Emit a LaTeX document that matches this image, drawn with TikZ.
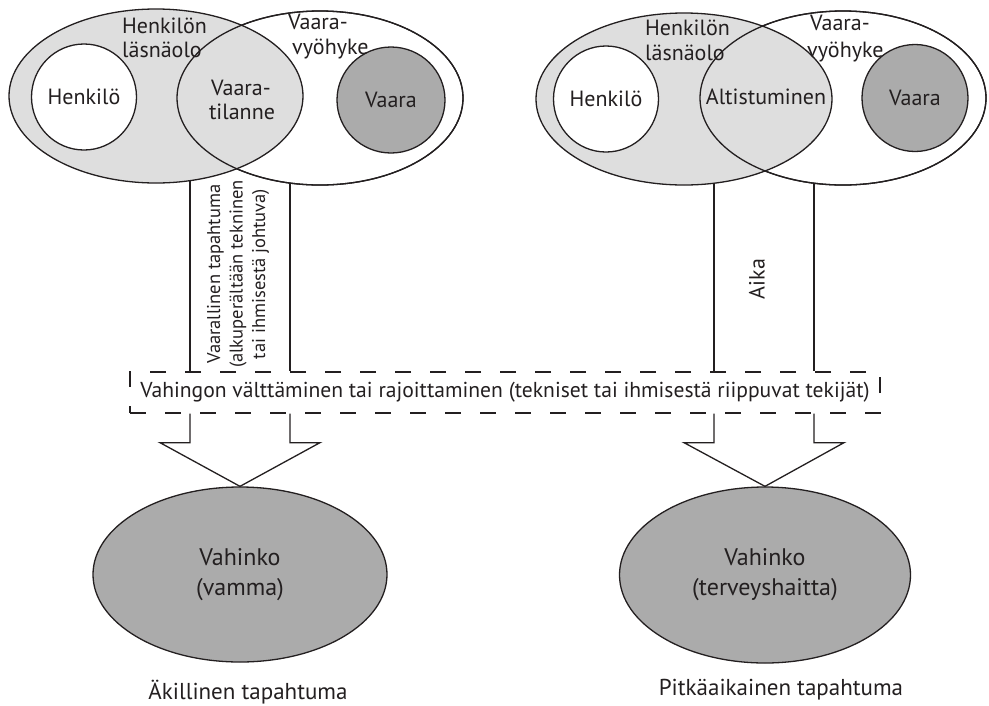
\documentclass[tikz,border=0pt]{standalone}
\usepackage{fontspec}
\setmainfont{PT Sans}
\usetikzlibrary{shapes.geometric,calc}
\pgfdeclarelayer{background}
\pgfsetlayers{background,main}
\definecolor{ink}{HTML}{231F20}
\definecolor{lightfill}{HTML}{DEDEDE}
\definecolor{darkfill}{HTML}{ABABAB}
\tikzset{
  outline/.style={draw=ink, line width=1.3pt},
  region/.style={ellipse, outline, inner sep=0pt},
  lbl/.style={text=ink, inner sep=0pt, font=\fontsize{22}{25}\selectfont},
  smalllbl/.style={text=ink, inner sep=0pt, font=\fontsize{18.5}{22.5}\selectfont},
  caption/.style={text=ink, inner sep=0pt, font=\fontsize{23}{27}\selectfont},
  blockarrow/.style={outline, line join=miter},
}
\begin{document}
\begin{tikzpicture}[x=1pt, y=-1pt]
\useasboundingbox (0,0) rectangle (989,705);

% dashed barrier box
\node[outline, dash pattern=on 16pt off 19pt, minimum width=750, minimum height=41,
      inner sep=0pt, text=ink, font=\fontsize{21.6}{25}\selectfont] (box) at (505,392.5)
  {Vahingon välttäminen tai rajoittaminen (tekniset tai ihmisestä riippuvat tekijät)};

% ---------- left: sudden event ----------
\node[region, fill=white, minimum width=286, minimum height=174] (zoneA) at (320,98) {};
\node[region, fill=lightfill, minimum width=294, minimum height=174] (presA) at (156,96) {};
\draw[outline] (zoneA.center) ellipse [x radius=143, y radius=87];
\node[region, fill=white, minimum width=105, minimum height=106, lbl] (personA) at (84,97) {Henkilö};
\node[region, fill=darkfill, minimum width=108, minimum height=106, lbl] (hazardA) at (391,100) {Vaara};
\node[lbl, anchor=base west] (presA1) at (122,33) {Henkilön};
\node[lbl, anchor=base west] (presA2) at (122,57) {läsnäolo};
\node[lbl, anchor=base west] (zoneA1) at (288,29) {Vaara-};
\node[lbl, anchor=base west] (zoneA2) at (292,54) {vyöhyke};
\node[lbl, anchor=base] (sitA1) at (241,95) {Vaara-};
\node[lbl, anchor=base] (sitA2) at (242,119) {tilanne};

% ---------- right: long-term event ----------
\node[region, fill=white, minimum width=286, minimum height=174] (zoneB) at (843,98) {};
\node[region, fill=lightfill, minimum width=296, minimum height=172] (presB) at (684,99) {};
\draw[outline] (zoneB.center) ellipse [x radius=143, y radius=87];
\node[region, fill=white, minimum width=105, minimum height=106, lbl] (personB) at (606,99) {Henkilö};
\node[region, fill=darkfill, minimum width=106, minimum height=107, lbl] (hazardB) at (915,98) {Vaara};
\node[lbl, anchor=base west] (presB1) at (645,35) {Henkilön};
\node[lbl, anchor=base west] (presB2) at (645,60) {läsnäolo};
\node[lbl, anchor=base west] (zoneB1) at (810,30) {Vaara-};
\node[lbl, anchor=base west] (zoneB2) at (807,57) {vyöhyke};
\node[lbl] (expB) at (766,97) {Altistuminen};

% ---------- damage ellipses ----------
\node[region, fill=darkfill, minimum width=294, minimum height=175, lbl, align=center,
      font=\fontsize{24}{30}\selectfont] (dmgA) at (240,574.5) {Vahinko\\(vamma)};
\node[region, fill=darkfill, minimum width=291, minimum height=176, lbl, align=center,
      font=\fontsize{24}{30}\selectfont] (dmgB) at (765,575) {Vahinko\\(terveyshaitta)};

% ---------- connectors from the overlaps down to the box ----------
\coordinate (a1) at (190,150);
\coordinate (a2) at (290,150);
\coordinate (b1) at (714,150);
\coordinate (b2) at (814,150);
\begin{pgfonlayer}{background}
  \draw[outline] (a1) -- (a1 |- box.north);
  \draw[outline] (a2) -- (a2 |- box.north);
  \draw[outline] (b1) -- (b1 |- box.north);
  \draw[outline] (b2) -- (b2 |- box.north);
\end{pgfonlayer}

\node[smalllbl, rotate=90, align=center] (eventA) at (238,274)
  {Vaarallinen tapahtuma\\(alkuperältään tekninen\\tai ihmisestä johtuva)};
\node[lbl, rotate=90] (timeB) at (757,279) {Aika};

% ---------- block arrows from the box to the damage ----------
\draw[blockarrow] (a1 |- box.south) -- ++(0,29) -- ++(-30,0) -- (dmgA.north)
  -- ($(a2 |- box.south)+(30,29)$) -- ++(-30,0) -- (a2 |- box.south);
\draw[blockarrow] (b1 |- box.south) -- ++(0,29) -- ++(-30,0) -- (dmgB.north)
  -- ($(b2 |- box.south)+(30,29)$) -- ++(-30,0) -- (b2 |- box.south);

% ---------- captions ----------
\node[caption] (kindA) at (248,692) {Äkillinen tapahtuma};
\node[caption] (kindB) at (781,690) {Pitkäaikainen tapahtuma};
\end{tikzpicture}
\end{document}
